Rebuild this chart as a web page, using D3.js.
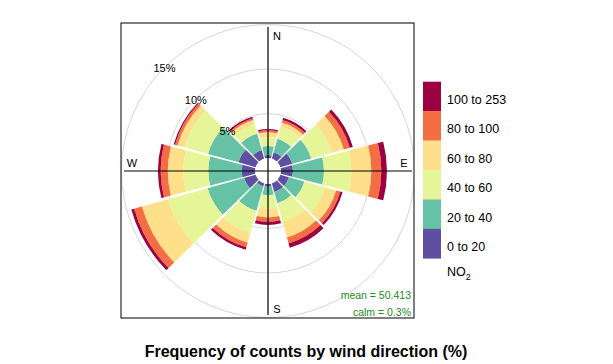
<!DOCTYPE html>
<html><head><meta charset="utf-8">
<script src="https://cdn.jsdelivr.net/npm/d3@7"></script>
<style>body{margin:0;background:#fff}svg{display:block;font-family:"Liberation Sans",Arial,sans-serif}</style>
</head><body>
<script>
// wind direction sectors (degrees)
const directions = [0,30,60,90,120,150,180,210,240,270,300,330];
// NO2 concentration bins
const bins = ["0 to 20","20 to 40","40 to 60","60 to 80","80 to 100","100 to 253"];
// frequency (%) per bin per direction
const b0_20    = [0.34,0.75,1.40,1.35,1.00,1.00,0.30,0.35,1.35,1.50,2.00,1.00];
const b20_40   = [1.01,1.55,2.20,3.48,1.80,1.30,0.95,2.85,4.25,3.75,3.55,1.90];
const b40_60   = [1.01,1.40,2.40,3.07,2.40,2.20,1.50,2.60,4.60,2.80,2.75,1.10];
const b60_80   = [0.52,0.50,1.40,2.25,1.30,1.80,1.00,1.10,3.06,1.75,0.80,0.50];
const b80_100  = [0.23,0.30,0.70,1.12,0.50,0.70,0.50,0.55,0.90,0.80,0.30,0.20];
const b100_253 = [0.15,0.25,0.35,0.63,0.25,0.50,0.35,0.30,0.34,0.30,0.15,0.17];
const series = [b0_20,b20_40,b40_60,b60_80,b80_100,b100_253];
const colors = ["#5E4FA2","#66C2A5","#E6F598","#FEE08B","#F46D43","#9E0142"];
const gridVals = [5,10,15];
const compass = [["N",0],["E",90],["S",180],["W",270]];
const meanText = "mean = 50.413";
const calmText = "calm = 0.3%";
const title = "Frequency of counts by wind direction (%)";

const W = 613, H = 364;
const cx = 268, cy = 171;
const svg = d3.select("body").append("svg").attr("width",W).attr("height",H);

const r = d3.scaleLinear().domain([0,15]).range([13,146.5]);
const color = d3.scaleOrdinal().domain(bins).range(colors);

// clip for panel
svg.append("clipPath").attr("id","panel").append("rect")
  .attr("x",121).attr("y",23).attr("width",293).attr("height",295);

const g = svg.append("g").attr("clip-path","url(#panel)");

// grid circles
g.selectAll("circle.grid").data(gridVals).join("circle")
  .attr("class","grid").attr("cx",cx).attr("cy",cy).attr("r",d=>r(d))
  .attr("fill","none").attr("stroke","#d6d6d6").attr("stroke-width",1);

// stacked data
const rows = directions.map((d,i)=>{const o={dir:d}; bins.forEach((b,j)=>o[b]=series[j][i]); return o;});
const stacked = d3.stack().keys(bins)(rows);

const gapDeg = 0.55;
const arc = d3.arc().padRadius(100).padAngle(0.008);
const toRad = Math.PI/180;

stacked.forEach((layer,j)=>{
  g.append("g").selectAll("path").data(layer).join("path")
    .attr("transform",`translate(${cx},${cy})`)
    .attr("fill",colors[j])
    .attr("d",d=>arc({
      innerRadius:r(d[0]), outerRadius:r(d[1]),
      startAngle:(d.data.dir-15+gapDeg)*toRad,
      endAngle:(d.data.dir+15-gapDeg)*toRad
    }));
});

// axis lines
const ext = 144;
g.append("line").attr("x1",cx).attr("x2",cx).attr("y1",cy-ext).attr("y2",cy+ext).attr("stroke","#000").attr("stroke-width",1.2);
g.append("line").attr("x1",cx-ext).attr("x2",cx+ext).attr("y1",cy).attr("y2",cy).attr("stroke","#000").attr("stroke-width",1.2);

// compass labels
const compPos = {N:[277,39.5],E:[404,166.5],S:[277,313],W:[132,166.5]};
compass.forEach(([t])=>{
  svg.append("text").attr("x",compPos[t][0]).attr("y",compPos[t][1]).attr("text-anchor","middle")
    .attr("font-size",11).attr("fill","#000").text(t);
});

// percent labels at 315 deg
gridVals.forEach(v=>{
  const a = 315*toRad;
  const x = cx + r(v)*Math.sin(a), y = cy - r(v)*Math.cos(a);
  svg.append("text").attr("x",x).attr("y",y+5).attr("text-anchor","middle")
    .attr("font-size",11).attr("fill","#000").text(v+"%");
});

// mean / calm
svg.append("text").attr("x",411).attr("y",299).attr("text-anchor","end").attr("font-size",10.5).attr("fill","#228B22").text(meanText);
svg.append("text").attr("x",411).attr("y",315.5).attr("text-anchor","end").attr("font-size",10.5).attr("fill","#228B22").text(calmText);

// panel border
svg.append("rect").attr("x",121).attr("y",23).attr("width",293).attr("height",295)
  .attr("fill","none").attr("stroke","#000").attr("stroke-width",1);

// legend
const lx = 423, ltop = 81.7, lh = (258.3-81.7)/bins.length;
const leg = svg.append("g");
bins.slice().reverse().forEach((b,i)=>{
  leg.append("rect").attr("x",lx).attr("y",ltop+i*lh).attr("width",18).attr("height",lh+0.3).attr("fill",color(b));
  leg.append("text").attr("x",447).attr("y",ltop+i*lh+lh/2+7.5).attr("font-size",12.5).attr("fill","#000").text(b);
});
const no2 = leg.append("text").attr("x",447).attr("y",276).attr("font-size",12.5).attr("fill","#000");
no2.append("tspan").text("NO");
no2.append("tspan").attr("font-size",9).attr("dy",3.5).text("2");

// title
svg.append("text").attr("x",306).attr("y",357).attr("text-anchor","middle")
  .attr("font-size",16).attr("font-weight","bold").attr("fill","#000").text(title);
</script>
</body></html>
